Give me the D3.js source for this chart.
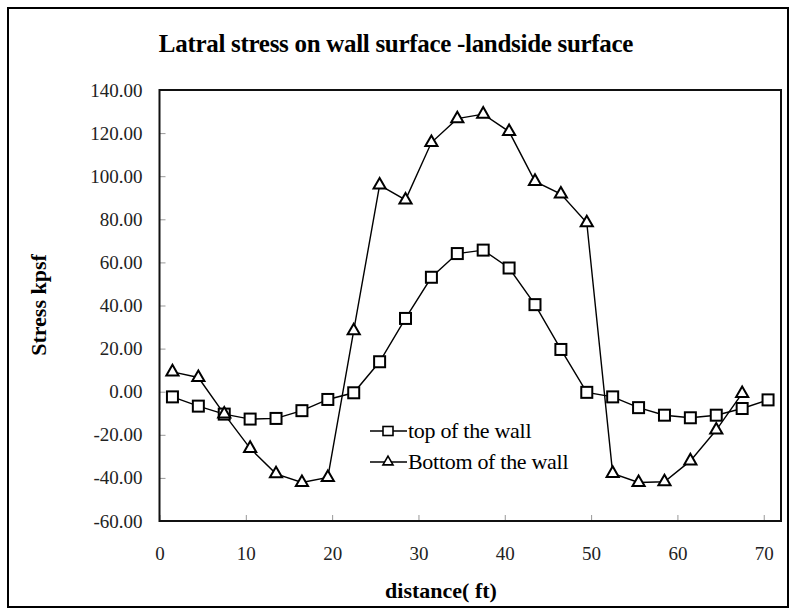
<!DOCTYPE html>
<html>
<head>
<meta charset="utf-8">
<script src="https://cdn.jsdelivr.net/npm/d3@7"></script>
<style>
  body { margin: 0; background: #fff; }
  text { font-family: "Liberation Serif", "Times New Roman", serif; }
</style>
</head>
<body>
<div id="chart"></div>
<script>
// distance along the wall (ft)
var distTop = [1.5, 4.5, 7.5, 10.5, 13.5, 16.5, 19.5, 22.5, 25.5, 28.5, 31.5, 34.5,
               37.5, 40.5, 43.5, 46.5, 49.5, 52.5, 55.5, 58.5, 61.5, 64.5, 67.5, 70.5];
var distBottom = distTop.slice(0, 23);

// stress kpsf
var topWall = [-2.4, -6.7, -10.4, -12.7, -12.4, -8.8, -3.6, -0.5, 13.9, 34.0, 53.1, 64.1,
               65.7, 57.4, 40.4, 19.6, -0.3, -2.4, -7.4, -10.9, -12.1, -10.9, -7.8, -3.8];
var bottomWall = [9.2, 6.6, -10.4, -26.3, -38.1, -42.1, -39.8, 28.3, 95.9, 89.0, 115.6, 126.7,
                  128.8, 120.7, 97.6, 91.7, 78.4, -37.9, -42.1, -41.8, -32.1, -17.8, -0.8];

var xTicks = [0, 10, 20, 30, 40, 50, 60, 70];
var yTicks = [-60, -40, -20, 0, 20, 40, 60, 80, 100, 120, 140];

var seriesNames = ["top of the wall", "Bottom of the wall"];

var w = 795;
var h = 614;

var svg = d3.select("#chart")
            .append("svg")
            .attr("width", w)
            .attr("height", h);

// outer chart border
svg.append("rect")
   .attr("x", 8).attr("y", 8)
   .attr("width", 780).attr("height", 599)
   .attr("fill", "white")
   .attr("stroke", "black")
   .attr("stroke-width", 2);

var xScale = d3.scaleLinear().domain([0, 72]).range([159.5, 781]);
var yScale = d3.scaleLinear().domain([-60, 140]).range([521, 90]);

svg.append("text")
   .attr("x", 396).attr("y", 52)
   .attr("text-anchor", "middle")
   .attr("font-size", 25)
   .attr("font-weight", "bold")
   .attr("letter-spacing", -0.3)
   .text("Latral stress on wall surface -landside surface");

// x axis, ticks point inward
var xAxis = svg.append("g")
   .attr("transform", "translate(0," + yScale(-60) + ")")
   .call(d3.axisBottom(xScale).tickValues(xTicks).tickSize(-6).tickPadding(26)
           .tickFormat(d3.format("d")));
xAxis.select(".domain").remove();
xAxis.selectAll(".tick line").attr("stroke", "#999");
xAxis.selectAll(".tick text")
     .attr("font-size", 19)
     .attr("fill", "#222")
     .style("font-family", "Liberation Serif, serif");

// plain hyphen for negatives, like the original sheet
var yFormat = function(d) { return d.toFixed(2); };

var yAxis = svg.append("g")
   .attr("transform", "translate(" + xScale(0) + ",0)")
   .call(d3.axisLeft(yScale).tickValues(yTicks).tickSize(-6).tickPadding(17)
           .tickFormat(yFormat));
yAxis.select(".domain").remove();
yAxis.selectAll(".tick line").attr("stroke", "#999");
yAxis.selectAll(".tick text")
     .attr("font-size", 19)
     .attr("fill", "#222")
     .style("font-family", "Liberation Serif, serif");

// plot frame
svg.append("rect")
   .attr("x", xScale(0)).attr("y", yScale(140))
   .attr("width", xScale(72) - xScale(0))
   .attr("height", yScale(-60) - yScale(140))
   .attr("fill", "none")
   .attr("stroke", "#111")
   .attr("stroke-width", 2);

svg.append("text")
   .attr("x", 441).attr("y", 598)
   .attr("text-anchor", "middle")
   .attr("font-size", 22)
   .attr("font-weight", "bold")
   .text("distance( ft)");

svg.append("text")
   .attr("transform", "translate(46,305) rotate(-90)")
   .attr("text-anchor", "middle")
   .attr("font-size", 22)
   .attr("font-weight", "bold")
   .text("Stress kpsf");

var line = d3.line()
    .x(function(d) { return xScale(d[0]); })
    .y(function(d) { return yScale(d[1]); });

var topData = d3.zip(distTop, topWall);
var bottomData = d3.zip(distBottom, bottomWall);

var tri = d3.symbol().type(d3.symbolTriangle).size(64);

svg.append("path")
   .datum(topData)
   .attr("d", line)
   .attr("fill", "none")
   .attr("stroke", "black")
   .attr("stroke-width", 1.4);

svg.append("path")
   .datum(bottomData)
   .attr("d", line)
   .attr("fill", "none")
   .attr("stroke", "black")
   .attr("stroke-width", 1.4);

svg.selectAll(".sq")
   .data(topData)
   .enter()
   .append("rect")
   .attr("class", "sq")
   .attr("x", function(d) { return xScale(d[0]) - 5.5; })
   .attr("y", function(d) { return yScale(d[1]) - 5.5; })
   .attr("width", 11)
   .attr("height", 11)
   .attr("fill", "white")
   .attr("stroke", "black")
   .attr("stroke-width", 2);

svg.selectAll(".tri")
   .data(bottomData)
   .enter()
   .append("path")
   .attr("class", "tri")
   .attr("d", tri)
   .attr("transform", function(d) {
       return "translate(" + xScale(d[0]) + "," + yScale(d[1]) + ")";
   })
   .attr("fill", "white")
   .attr("stroke", "black")
   .attr("stroke-width", 2);

// legend
var legend = svg.append("g").attr("transform", "translate(370,431)");
seriesNames.forEach(function(name, i) {
    var g = legend.append("g").attr("transform", "translate(0," + i * 31 + ")");
    g.append("line")
     .attr("x1", 0).attr("x2", 37)
     .attr("stroke", "black")
     .attr("stroke-width", 1.5);
    if (i === 0) {
        g.append("rect")
         .attr("x", 13).attr("y", -4.5).attr("width", 10).attr("height", 9)
         .attr("fill", "white").attr("stroke", "black").attr("stroke-width", 1.6);
    } else {
        g.append("path")
         .attr("d", d3.symbol().type(d3.symbolTriangle).size(44))
         .attr("transform", "translate(18,0)")
         .attr("fill", "white").attr("stroke", "black").attr("stroke-width", 1.6);
    }
    g.append("text")
     .attr("x", 38).attr("y", 7)
     .attr("font-size", 22)
     .attr("letter-spacing", -0.3)
     .text(name);
});
</script>
</body>
</html>
